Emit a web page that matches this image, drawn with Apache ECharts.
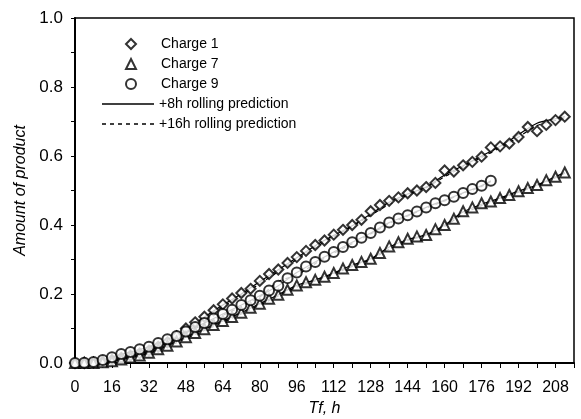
<!DOCTYPE html>
<html>
<head>
<meta charset="utf-8">
<script src="https://cdn.jsdelivr.net/npm/echarts@6/dist/echarts.min.js"></script>
<style>
  html, body { margin: 0; padding: 0; background: #fff; }
  #chart { width: 581px; height: 419px; }
</style>
</head>
<body>
<div id="chart"></div>
<script>
// Sampling times (h) of the measured charges
const timesFull = [0,4,8,12,16,20,24,28,32,36,40,44,48,52,56,60,64,68,72,76,80,84,88,92,96,100,104,108,112,116,120,124,128,132,136,140,144,148,152,156,160,164,168,172,176,180,184,188,192,196,200,204,208,212];
const times9 = timesFull.slice(0, 46); // charge 9 runs to 180 h

// Measured amount of product
const charge1 = [0,0,0.001,0.004,0.009,0.015,0.021,0.028,0.036,0.047,0.060,0.078,0.100,0.118,0.134,0.153,0.170,0.187,0.203,0.215,0.238,0.258,0.271,0.290,0.307,0.325,0.342,0.355,0.372,0.386,0.400,0.415,0.440,0.458,0.470,0.480,0.492,0.500,0.510,0.522,0.558,0.555,0.573,0.583,0.598,0.625,0.628,0.636,0.655,0.684,0.672,0.690,0.704,0.714];
const charge7 = [0,0,0,0.002,0.005,0.010,0.016,0.022,0.030,0.040,0.050,0.062,0.075,0.087,0.098,0.110,0.122,0.133,0.146,0.160,0.172,0.186,0.198,0.212,0.225,0.234,0.241,0.250,0.261,0.274,0.284,0.293,0.302,0.319,0.338,0.350,0.360,0.367,0.371,0.388,0.400,0.418,0.440,0.451,0.463,0.468,0.478,0.487,0.498,0.507,0.516,0.530,0.540,0.552];
const charge9 = [0,0.001,0.003,0.009,0.017,0.026,0.032,0.040,0.047,0.058,0.069,0.078,0.091,0.104,0.116,0.129,0.142,0.154,0.168,0.182,0.195,0.210,0.224,0.246,0.262,0.280,0.293,0.308,0.322,0.336,0.350,0.363,0.377,0.393,0.407,0.419,0.428,0.439,0.451,0.463,0.472,0.482,0.493,0.504,0.514,0.528];

// Rolling model predictions
const predTimes = [16,24,32,40,48,56,64,72,80,88,96,104,112,120,128,136,144,152,160,168,176,184,192,200,208,212];
const predTimes9 = [16,24,32,40,48,56,64,72,80,88,96,104,112,120,128,136,144,152,160,168,176,180];
const pred8h1 = [0.008,0.020,0.036,0.058,0.095,0.133,0.168,0.200,0.236,0.270,0.305,0.340,0.370,0.398,0.432,0.466,0.490,0.510,0.545,0.572,0.600,0.628,0.662,0.695,0.708,0.714];
const pred16h1 = [0.007,0.018,0.033,0.055,0.090,0.128,0.163,0.196,0.230,0.265,0.300,0.335,0.366,0.396,0.428,0.460,0.487,0.508,0.540,0.568,0.596,0.624,0.655,0.688,0.703,0.710];
const pred8h7 = [0.005,0.016,0.030,0.050,0.075,0.098,0.122,0.146,0.172,0.198,0.225,0.241,0.261,0.284,0.302,0.336,0.358,0.372,0.400,0.438,0.460,0.478,0.498,0.516,0.540,0.552];
const pred16h7 = [0.004,0.014,0.028,0.047,0.071,0.094,0.118,0.142,0.168,0.194,0.220,0.238,0.258,0.280,0.300,0.330,0.355,0.370,0.396,0.432,0.456,0.475,0.495,0.514,0.537,0.550];
const pred8h9 = [0.017,0.032,0.047,0.069,0.091,0.116,0.142,0.168,0.195,0.224,0.262,0.293,0.322,0.350,0.377,0.407,0.428,0.451,0.472,0.493,0.514,0.528];
const pred16h9 = [0.015,0.030,0.045,0.066,0.088,0.112,0.138,0.164,0.192,0.236,0.255,0.288,0.318,0.346,0.374,0.404,0.426,0.449,0.470,0.491,0.512,0.526];

const FONT = '"Liberation Sans", Arial, sans-serif';
const pairs = (xs, ys) => ys.map((y, i) => [xs[i], y]);

// Legend swatches for the prediction curves: a plain bar and a row of dashes
const SOLID_ICON = 'path://M0,0h52v1.6h-52z';
let dashPath = 'path://';
for (let x = 0; x < 52; x += 8) dashPath += 'M' + x + ',0h4v1.6h-4z';
const DASH_ICON = dashPath;

function predLine(name, xs, ys, dashed) {
  return {
    name, type: 'line', data: pairs(xs, ys), symbol: 'none', showSymbol: false, smooth: 0.3,
    lineStyle: { color: '#000', width: 1.2, type: dashed ? [4, 4] : 'solid' },
    itemStyle: { color: '#000' }, z: 2, silent: true, animation: false
  };
}
function markers(name, xs, ys, symbol, size, z) {
  return {
    name, type: 'scatter', data: pairs(xs, ys), symbol, symbolSize: size,
    itemStyle: { color: '#fff', borderColor: '#000', borderWidth: 2 },
    z, animation: false
  };
}

const chart = echarts.init(document.getElementById('chart'), null, { renderer: 'canvas' });
chart.setOption({
  backgroundColor: '#fff',
  animation: false,
  textStyle: { fontFamily: FONT, color: '#000' },
  grid: {
    left: 75, right: 7, top: 18, bottom: 56, containLabel: false, outerBoundsMode: 'none',
    show: true, borderColor: '#000', borderWidth: 1.5, backgroundColor: 'transparent'
  },
  legend: [
    {
      data: ['Charge 1', 'Charge 7', 'Charge 9'],
      orient: 'vertical', left: 120, top: 31, itemWidth: 10, itemHeight: 10, itemGap: 4,
      textStyle: { fontFamily: FONT, fontSize: 14, color: '#000', lineHeight: 16, padding: [0, 0, 0, 20] },
      selectedMode: false
    },
    {
      data: [
        { name: '+8h rolling prediction', icon: SOLID_ICON },
        { name: '+16h rolling prediction', icon: DASH_ICON }
      ],
      orient: 'vertical', left: 97, top: 91, itemWidth: 52, itemHeight: 10, itemGap: 4,
      itemStyle: { color: '#000', borderWidth: 0 },
      textStyle: { fontFamily: FONT, fontSize: 14, color: '#000', lineHeight: 16 },
      selectedMode: false
    }
  ],
  xAxis: {
    type: 'value', min: 0, max: 216, interval: 8,
    name: 'Tf, h', nameLocation: 'middle', nameGap: 38,
    nameTextStyle: { fontFamily: FONT, fontSize: 16, fontStyle: 'italic', color: '#000' },
    axisLine: { lineStyle: { color: '#000', width: 2 } },
    axisTick: { length: 5, lineStyle: { color: '#000', width: 1 } },
    axisLabel: { fontFamily: FONT, fontSize: 16, color: '#000', margin: 17,
      formatter: v => (v % 16 === 0 ? String(v) : '') },
    splitLine: { show: false }
  },
  yAxis: {
    type: 'value', min: 0, max: 1, interval: 0.1,
    name: 'Amount of product', nameLocation: 'middle', nameGap: 45,
    nameTextStyle: { fontFamily: FONT, fontSize: 16, fontStyle: 'italic', color: '#000' },
    axisLine: { lineStyle: { color: '#000', width: 2 } },
    axisTick: { length: 4, lineStyle: { color: '#000', width: 1 } },
    axisLabel: { fontFamily: FONT, fontSize: 17, color: '#000', margin: 12,
      formatter: v => (Math.round(v * 10) % 2 === 0 ? v.toFixed(1) : '') },
    splitLine: { show: false }
  },
  series: [
    predLine('+8h rolling prediction', predTimes, pred8h1, false),
    predLine('+16h rolling prediction', predTimes, pred16h1, true),
    predLine('+8h rolling prediction', predTimes, pred8h7, false),
    predLine('+16h rolling prediction', predTimes, pred16h7, true),
    predLine('+8h rolling prediction', predTimes9, pred8h9, false),
    predLine('+16h rolling prediction', predTimes9, pred16h9, true),
    markers('Charge 1', timesFull, charge1, 'diamond', 10, 3),
    markers('Charge 7', timesFull, charge7, 'triangle', 10, 4),
    markers('Charge 9', times9, charge9, 'circle', 10, 5)
  ]
});
</script>
</body>
</html>
